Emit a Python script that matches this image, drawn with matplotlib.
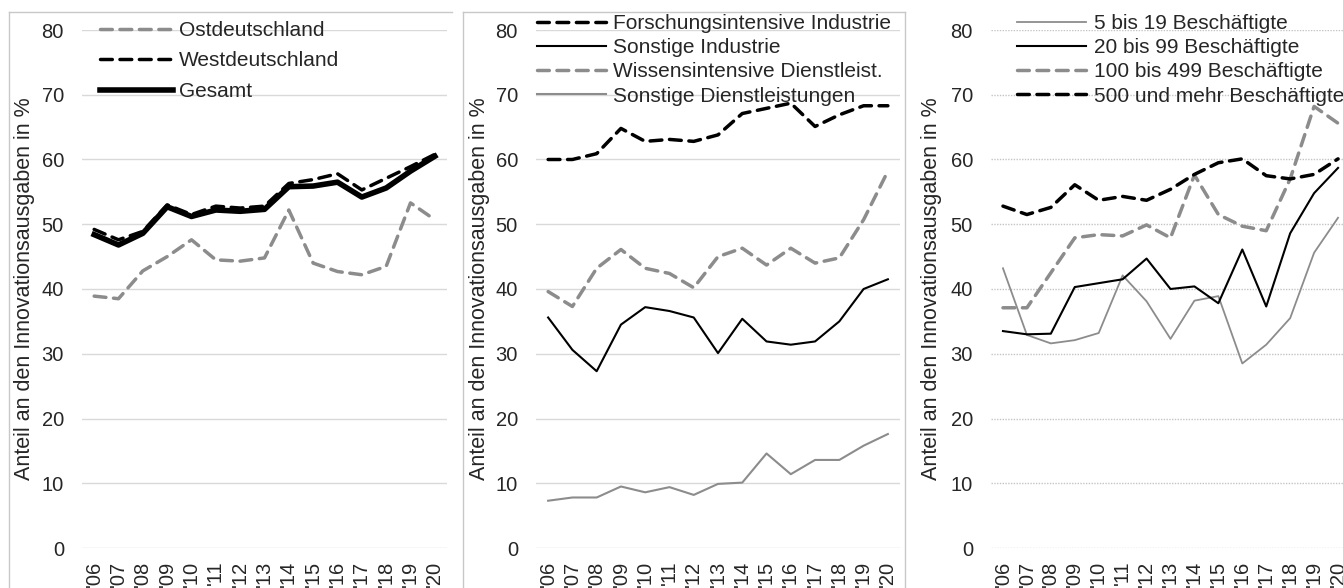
import matplotlib.pyplot as plt
from matplotlib.lines import Line2D

plt.rcParams['font.family'] = ['Liberation Sans', 'DejaVu Sans']

years = ["'06", "'07", "'08", "'09", "'10", "'11", "'12", "'13", "'14", "'15", "'16", "'17", "'18", "'19", "'20"]

# panel 1
ost = [38.9, 38.5, 42.8, 45.0, 47.6, 44.5, 44.3, 44.8, 52.2, 44.0, 42.7, 42.2, 43.5, 53.3, 50.7]
west = [49.2, 47.6, 48.9, 53.0, 51.5, 52.8, 52.5, 52.8, 56.3, 56.9, 57.8, 55.3, 57.1, 58.9, 60.8]
gesamt = [48.4, 46.8, 48.6, 52.7, 51.2, 52.2, 52.0, 52.3, 55.8, 55.9, 56.5, 54.2, 55.6, 58.2, 60.5]

# panel 2
forsch = [60.0, 60.0, 60.9, 64.8, 62.8, 63.1, 62.8, 63.8, 67.1, 67.9, 68.7, 65.1, 66.9, 68.3, 68.3]
sonst_ind = [35.6, 30.6, 27.3, 34.5, 37.2, 36.6, 35.6, 30.1, 35.4, 31.9, 31.4, 31.9, 35.0, 40.0, 41.5]
wissen = [39.6, 37.3, 43.2, 46.1, 43.2, 42.4, 40.2, 45.0, 46.3, 43.7, 46.3, 44.0, 44.8, 50.7, 58.2]
sonst_dl = [7.3, 7.8, 7.8, 9.5, 8.6, 9.4, 8.2, 9.9, 10.1, 14.6, 11.4, 13.6, 13.6, 15.8, 17.6]

# panel 3
b5_19 = [43.2, 32.9, 31.6, 32.1, 33.2, 42.1, 38.1, 32.3, 38.2, 38.9, 28.5, 31.4, 35.5, 45.6, 51.0]
b20_99 = [33.5, 33.0, 33.1, 40.3, 40.9, 41.5, 44.7, 40.0, 40.4, 37.8, 46.1, 37.3, 48.6, 54.8, 58.7]
b100_499 = [37.1, 37.1, 42.5, 47.9, 48.4, 48.2, 49.9, 47.9, 57.6, 51.5, 49.7, 49.0, 57.0, 68.2, 65.6]
b500 = [52.8, 51.5, 52.6, 56.1, 53.7, 54.3, 53.7, 55.4, 57.7, 59.5, 60.1, 57.5, 57.0, 57.7, 60.1]

ylabel = "Anteil an den Innovationsausgaben in %"
grey = '#8c8c8c'
txt = '#262626'

W, H = 1343, 588
fig = plt.figure(figsize=(W / 100, H / 100), dpi=100)

def px(x0, x1):
    return [x0 / W, (H - 548) / H, (x1 - x0) / W, 518 / H]

def setup(ax, labx, gridstyle='-', gridcol='#d9d9d9'):
    x = range(len(years))
    ax.set_xlim(-0.5, len(years) - 0.5)
    ax.set_ylim(0, 80)
    ax.set_yticks(range(0, 90, 10))
    ax.set_xticks(list(x))
    ax.set_xticklabels(years, rotation=90, va='top', ha='center')
    ax.tick_params(length=0, labelsize=14.5, colors=txt)
    ax.tick_params(axis='x', pad=9)
    ax.tick_params(axis='y', pad=13)
    for s in ax.spines.values():
        s.set_visible(False)
    ax.grid(axis='y', color=gridcol, lw=1, ls=gridstyle)
    ax.set_axisbelow(True)
    ax.set_ylabel(ylabel, fontsize=15.5, color=txt)
    ax.yaxis.set_label_coords(labx, 0.5)

dash_a = dict(ls=(0, (3.4, 2.2)), dash_capstyle='round', solid_capstyle='round')
leg_kw = dict(bbox_transform=fig.transFigure, frameon=False, fontsize=15, borderpad=0,
              borderaxespad=0, labelcolor=txt, loc='upper left')

# panel 1
ax1 = fig.add_axes(px(82, 447))
setup(ax1, -0.129)
x = range(len(years))
ax1.plot(x, ost, color=grey, lw=2.5, label='Ostdeutschland', **dash_a)
ax1.plot(x, west, color='black', lw=2.5, label='Westdeutschland', **dash_a)
ax1.plot(x, gesamt, color='black', lw=4, label='Gesamt', solid_joinstyle='round')
ax1.legend(bbox_to_anchor=(100 / W, 1 - 21 / H), handlelength=3.5, handletextpad=0.3,
           labelspacing=0.55, **leg_kw)

# panel 2
ax2 = fig.add_axes(px(536, 900))
setup(ax2, -0.126)
ax2.plot(x, forsch, color='black', lw=2.5, label='Forschungsintensive Industrie', **dash_a)
ax2.plot(x, sonst_ind, color='black', lw=1.5, label='Sonstige Industrie')
ax2.plot(x, wissen, color=grey, lw=2.5, label='Wissensintensive Dienstleist.', **dash_a)
ax2.plot(x, sonst_dl, color=grey, lw=1.5, label='Sonstige Dienstleistungen')
ax2.legend(bbox_to_anchor=(537 / W, 1 - 14 / H), handlelength=3.3, handletextpad=0.33,
           labelspacing=0.25, **leg_kw)

# panel 3 (cut at the right edge like the original)
ax3 = fig.add_axes(px(991, 1350))
setup(ax3, -0.136, gridstyle=(0, (1, 1)), gridcol='#c4c4c4')
ax3.plot(x, b5_19, color=grey, lw=1.3, label='5 bis 19 Beschäftigte')
ax3.plot(x, b20_99, color='black', lw=1.5, label='20 bis 99 Beschäftigte')
ax3.plot(x, b100_499, color=grey, lw=2.5, label='100 bis 499 Beschäftigte', **dash_a)
ax3.plot(x, b500, color='black', lw=2.5, label='500 und mehr Beschäftigte', **dash_a)
ax3.legend(bbox_to_anchor=(1017 / W, 1 - 14 / H), handlelength=3.3, handletextpad=0.38,
           labelspacing=0.25, **leg_kw)

# chart area borders
bc = '#c8c8c8'
def fline(xs, ys):
    fig.add_artist(Line2D([v / W for v in xs], [1 - v / H for v in ys], color=bc, lw=1,
                          transform=fig.transFigure))
fline([9, 9], [12, 588])
fline([9, 452], [12, 12])
fline([463, 463], [12, 588])
fline([463, 905], [12, 12])
fline([905, 905], [12, 588])

fig.savefig('out.png', dpi=100)
